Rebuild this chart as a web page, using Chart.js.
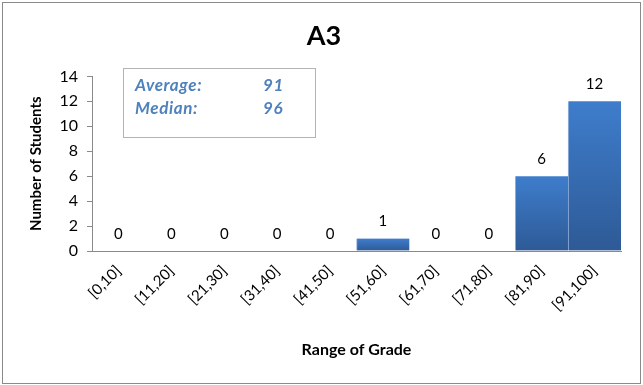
<!DOCTYPE html>
<html>
<head>
<meta charset="utf-8">
<script src="https://cdn.jsdelivr.net/npm/chart.js@4/dist/chart.umd.min.js"></script>
<style>
  html, body { margin: 0; padding: 0; background: #fff; }
  #wrap { position: relative; width: 643px; height: 385px; }
</style>
</head>
<body>
<div id="wrap"><canvas id="grafico"></canvas></div>
<script>
// Datos del gráfico
const categorias = ['[0,10]', '[11,20]', '[21,30]', '[31,40]', '[41,50]', '[51,60]', '[61,70]', '[71,80]', '[81,90]', '[91,100]'];
const estudiantes = [0, 0, 0, 0, 0, 1, 0, 0, 6, 12];
const ticksY = [0, 2, 4, 6, 8, 10, 12, 14];
const promedio = 91;
const mediana = 96;

const fuente = 'Lato, "Open Sans", sans-serif';

// Degradado por barra (más claro arriba, más oscuro abajo)
function colorBarra(context) {
    const chart = context.chart;
    if (!chart.chartArea || !chart.scales.y) return '#3a6db5';
    const y = chart.scales.y;
    const top = y.getPixelForValue(context.raw || 0);
    const bottom = y.getPixelForValue(0);
    if (!isFinite(top) || bottom - top < 1) return '#3a6db5';
    const g = chart.ctx.createLinearGradient(0, top, 0, bottom);
    g.addColorStop(0, '#3e7dcc');
    g.addColorStop(1, '#2e5a96');
    return g;
}

// Marco exterior del gráfico
const marco = {
    id: 'marco',
    beforeDraw(chart) {
        const ctx = chart.ctx;
        ctx.save();
        ctx.fillStyle = '#fff';
        ctx.fillRect(0, 0, chart.width, chart.height);
        ctx.strokeStyle = '#8a8a8a';
        ctx.lineWidth = 1;
        ctx.strokeRect(2.5, 2.5, chart.width - 5, chart.height - 4);
        ctx.restore();
    }
};

// Etiquetas con los valores encima de las barras
const etiquetas = {
    id: 'etiquetas',
    afterDatasetsDraw(chart) {
        const ctx = chart.ctx;
        const meta = chart.getDatasetMeta(0);
        ctx.save();
        ctx.font = '15px ' + fuente;
        ctx.fillStyle = '#000';
        ctx.textAlign = 'center';
        ctx.textBaseline = 'middle';
        meta.data.forEach((bar, i) => {
            ctx.fillText(String(estudiantes[i]), bar.x, bar.y - 17);
        });
        ctx.restore();
    }
};

// Cuadro con promedio y mediana
const resumen = {
    id: 'resumen',
    afterDraw(chart) {
        const ctx = chart.ctx;
        ctx.save();
        ctx.strokeStyle = '#b4b4b4';
        ctx.lineWidth = 1;
        ctx.strokeRect(123.5, 68.5, 192, 69);
        ctx.font = 'italic bold 17px ' + fuente;
        ctx.letterSpacing = '0.6px';
        ctx.fillStyle = '#4f81bd';
        ctx.textBaseline = 'middle';
        ctx.fillText('Average:', 135, 86);
        ctx.fillText(String(promedio), 263, 86);
        ctx.fillText('Median:', 135, 109);
        ctx.fillText(String(mediana), 263, 109);
        ctx.restore();
    }
};

const ctx = document.getElementById('grafico').getContext('2d');
const grafico = new Chart(ctx, {
    type: 'bar',
    data: {
        labels: categorias,
        datasets: [{
            label: 'Number of Students',
            data: estudiantes,
            backgroundColor: colorBarra,
            borderColor: 'rgba(110,150,210,0.7)',
            borderWidth: { left: 1, right: 0, top: 0, bottom: 0 },
            barPercentage: 1,
            categoryPercentage: 1
        }]
    },
    options: {
        responsive: true,
        maintainAspectRatio: false,
        animation: false,
        layout: { padding: { left: 27, right: 22, top: 0, bottom: 26 } },
        plugins: {
            legend: { display: false },
            tooltip: { enabled: false },
            title: {
                display: true,
                text: 'A3',
                color: '#000',
                font: { family: fuente, size: 27, weight: 'bold' },
                padding: { top: 20, bottom: 24 }
            }
        },
        scales: {
            x: {
                grid: { display: false },
                border: { color: '#8a8a8a' },
                ticks: {
                    color: '#000',
                    font: { family: fuente, size: 15 },
                    maxRotation: 45,
                    minRotation: 45,
                    autoSkip: false
                },
                title: {
                    display: true,
                    text: 'Range of Grade',
                    color: '#000',
                    font: { family: fuente, size: 16, weight: 'bold' },
                    padding: { top: 0, bottom: 0 }
                },
                afterFit(scale) { scale.height = 108; }
            },
            y: {
                min: 0,
                max: 14,
                afterBuildTicks(scale) { scale.ticks = ticksY.map(v => ({ value: v })); },
                grid: { drawOnChartArea: false, drawTicks: true, tickLength: 5, color: '#8a8a8a' },
                border: { color: '#8a8a8a' },
                ticks: {
                    color: '#000',
                    padding: 9,
                    font: { family: fuente, size: 16 }
                },
                title: {
                    display: true,
                    text: 'Number of Students',
                    color: '#000',
                    font: { family: fuente, size: 15, weight: 'bold' },
                    padding: { top: 0, bottom: 0 }
                },
                afterFit(scale) { scale.width = 65; }
            }
        }
    },
    plugins: [marco, etiquetas, resumen]
});
</script>
</body>
</html>
